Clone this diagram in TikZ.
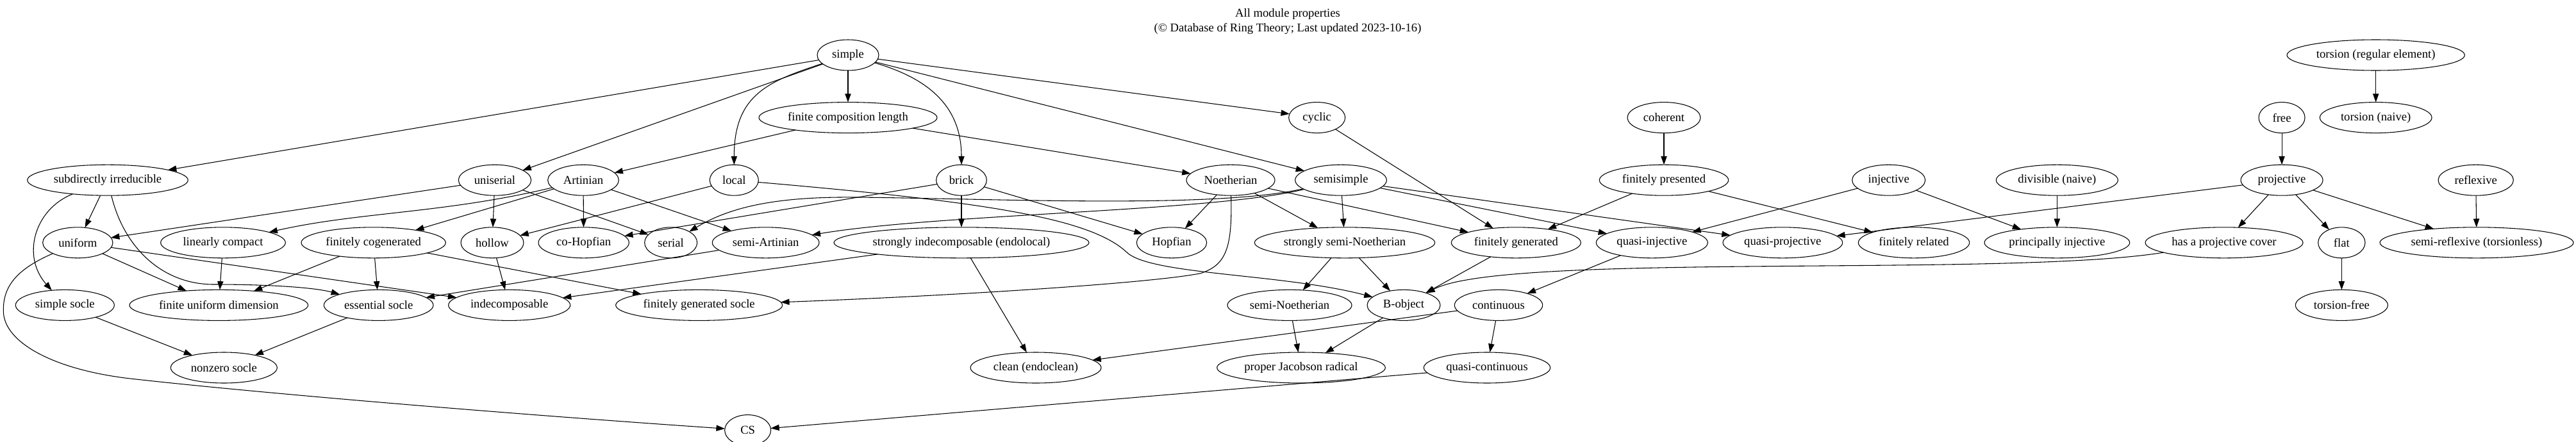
\documentclass[tikz,border=0pt]{standalone}
\usepackage{fontspec}
\setmainfont{Liberation Serif}
\usetikzlibrary{arrows.meta,positioning,shapes.geometric}

\begin{document}
\begin{tikzpicture}[x=1pt,y=1pt,node distance=37.2pt]
    \tikzset{
      prop/.style={ellipse,draw=black,thick,inner sep=1pt,outer sep=0pt,minimum height=36pt,font=\fontsize{14}{17}\selectfont},
      heading/.style={align=center,font=\fontsize{14}{16.8}\selectfont},
      arrow/.style={->,>={Triangle[length=10pt,width=7pt]},thick}
    }
    \useasboundingbox (0,0) rectangle (3014.25,-516.75);
    \node[heading] (title) at (1506.75,-25.1) {All module properties\\(© Database of Ring Theory; Last updated 2023-10-16)};

    \node[prop,minimum width=72pt] (simple) at (992.25,-64.5) {simple};
    \node[prop,minimum width=208.5pt,below=of simple] (fcl) {finite composition length};
    \node[prop,minimum width=66pt,right=411.5pt of fcl] (cyclic) {cyclic};

    \node[prop,minimum width=188pt] (subirred) at (126,-210.9) {subdirectly irreducible};
    \node[prop,minimum width=85pt,right=316.5pt of subirred] (uniserial) {uniserial};
    \node[prop,minimum width=83pt,right=19.5pt of uniserial] (artinian) {Artinian};
    \node[prop,minimum width=57pt,right=106.5pt of artinian] (local) {local};
    \node[prop,minimum width=59pt,right=208pt of local] (brick) {brick};
    \node[prop,minimum width=103.5pt,right=233.75pt of brick] (noetherian) {Noetherian};
    \node[prop,minimum width=107pt,right=23.75pt of noetherian] (semisimple) {semisimple};
    \node[prop,minimum width=151pt,right=249pt of semisimple] (finpres) {finitely presented};
    \node[prop,minimum width=85.5pt,right=144.75pt of finpres] (injective) {injective};
    \node[prop,minimum width=142.5pt,right=83pt of injective] (divisible) {divisible (naive)};
    \node[prop,minimum width=96pt,right=143.75pt of divisible] (projective) {projective};
    \node[prop,minimum width=88pt,right=135pt of projective] (reflexive) {reflexive};
    \node[prop,minimum width=85.5pt,above=of finpres] (coherent) {coherent};
    \node[prop,minimum width=54pt,above=of projective] (free) {free};
    \node[prop,minimum width=131pt,right=17.5pt of free] (torsionnaive) {torsion (naive)};
    \node[prop,minimum width=208pt,above=of torsionnaive] (torsionreg) {torsion (regular element)};

    \node[prop,minimum width=82pt] (uniform) at (91,-284.1) {uniform};
    \node[prop,minimum width=146pt,right=56pt of uniform] (lincompact) {linearly compact};
    \node[prop,minimum width=169pt,right=18.5pt of lincompact] (fincogen) {finitely cogenerated};
    \node[prop,minimum width=73.5pt,right=17.75pt of fincogen] (hollow) {hollow};
    \node[prop,minimum width=106pt,right=17.25pt of hollow] (cohopfian) {co-Hopfian};
    \node[prop,minimum width=61.5pt,right=18.25pt of cohopfian] (serial) {serial};
    \node[prop,minimum width=125pt,right=17.75pt of serial] (semiartinian) {semi-Artinian};
    \node[prop,minimum width=298.5pt,right=17.25pt of semiartinian] (strindec) {strongly indecomposable (endolocal)};
    \node[prop,minimum width=82pt,right=55.75pt of strindec] (hopfian) {Hopfian};
    \node[prop,minimum width=211pt,right=56pt of hopfian] (strsemino) {strongly semi-Noetherian};
    \node[prop,minimum width=151.5pt,right=19.25pt of strsemino] (fingen) {finitely generated};
    \node[prop,minimum width=130.5pt,right=18pt of fingen] (quasiinj) {quasi-injective};
    \node[prop,minimum width=140pt,right=17.75pt of quasiinj] (quasiproj) {quasi-projective};
    \node[prop,minimum width=130pt,right=18.5pt of quasiproj] (finrel) {finitely related};
    \node[prop,minimum width=170pt,right=17.5pt of finrel] (prinj) {principally injective};
    \node[prop,minimum width=184.5pt,right=18.25pt of prinj] (projcover) {has a projective cover};
    \node[prop,minimum width=55pt,right=17.75pt of projcover] (flat) {flat};
    \node[prop,minimum width=226.5pt,right=17.25pt of flat] (semirefl) {semi-reflexive (torsionless)};

    \node[prop,minimum width=115.5pt] (simplesocle) at (76,-357.3) {simple socle};
    \node[prop,minimum width=209pt,right=17.75pt of simplesocle] (fud) {finite uniform dimension};
    \node[prop,minimum width=128pt,right=18.5pt of fud] (esssocle) {essential socle};
    \node[prop,minimum width=142.5pt,right=17.75pt of esssocle] (indecomp) {indecomposable};
    \node[prop,minimum width=195pt,right=53.25pt of indecomp] (fgsocle) {finitely generated socle};
    \node[prop,minimum width=145.5pt,right=520.75pt of fgsocle] (seminoeth) {semi-Noetherian};
    \node[prop,minimum width=85.5pt,right=18pt of seminoeth] (bobject) {B-object};
    \node[prop,minimum width=103pt,right=16.75pt of bobject] (continuous) {continuous};
    \node[prop,minimum width=108pt,below=of flat] (torsionfree) {torsion-free};

    \node[prop,minimum width=124.5pt] (nonzerosocle) at (262,-430.5) {nonzero socle};
    \node[prop,minimum width=153pt,right=811.25pt of nonzerosocle] (clean) {clean (endoclean)};
    \node[prop,minimum width=197pt,right=135.5pt of clean] (jacobson) {proper Jacobson radical};
    \node[prop,minimum width=148pt,right=45pt of jacobson] (quasicont) {quasi-continuous};

    \node[prop,minimum width=54pt] (cs) at (875,-503.7) {CS};

    \draw[arrow] (simple) -- (subirred);
    \draw[arrow] (simple) -- (uniserial);
    \draw[arrow] (simple) .. controls (900,-95) and (859,-110) .. (local);
    \draw[arrow] (simple) -- (fcl);
    \draw[arrow] (simple) .. controls (1080,-90) and (1125,-120) .. (brick);
    \draw[arrow] (simple) -- (semisimple);
    \draw[arrow] (simple) -- (cyclic);
    \draw[arrow] (fcl) -- (artinian);
    \draw[arrow] (fcl) -- (noetherian);
    \draw[arrow] (cyclic) -- (fingen);
    \draw[arrow] (coherent) -- (finpres);
    \draw[arrow] (free) -- (projective);
    \draw[arrow] (torsionreg) -- (torsionnaive);

    \draw[arrow] (subirred) -- (uniform);
    \draw[arrow] (subirred) .. controls (40,-245) and (25,-300) .. (simplesocle);
    \draw[arrow] (subirred) .. controls (145,-290) and (190,-333) .. (250,-333) .. controls (320,-333) and (370,-337) .. (esssocle);
    \draw[arrow] (uniserial) -- (uniform);
    \draw[arrow] (uniserial) -- (hollow);
    \draw[arrow] (uniserial) -- (serial);
    \draw[arrow] (artinian) .. controls (520,-250) and (420,-248) .. (lincompact);
    \draw[arrow] (artinian) -- (fincogen);
    \draw[arrow] (artinian) -- (cohopfian);
    \draw[arrow] (artinian) -- (semiartinian);
    \draw[arrow] (local) -- (hollow);
    \draw[arrow] (local) .. controls (1150,-236) and (1275,-255) .. (1318,-295) .. controls (1345,-322) and (1500,-320) .. (bobject);
    \draw[arrow] (brick) -- (cohopfian);
    \draw[arrow] (brick) -- (strindec);
    \draw[arrow] (brick) -- (hopfian);
    \draw[arrow] (noetherian) -- (hopfian);
    \draw[arrow] (noetherian) -- (strsemino);
    \draw[arrow] (noetherian) -- (fingen);
    \draw[arrow] (noetherian) .. controls (1442,-290) and (1435,-310) .. (1405,-320) .. controls (1345,-332) and (1100,-347) .. (fgsocle);
    \draw[arrow] (semisimple) .. controls (1420,-245) and (1150,-232) .. (1000,-231) .. controls (900,-230) and (850,-245) .. (serial);
    \draw[arrow] (semisimple) .. controls (1420,-248) and (1100,-250) .. (semiartinian);
    \draw[arrow] (semisimple) -- (strsemino);
    \draw[arrow] (semisimple) -- (quasiinj);
    \draw[arrow] (semisimple) -- (quasiproj);
    \draw[arrow] (finpres) -- (fingen);
    \draw[arrow] (finpres) -- (finrel);
    \draw[arrow] (injective) -- (quasiinj);
    \draw[arrow] (injective) -- (prinj);
    \draw[arrow] (divisible) -- (prinj);
    \draw[arrow] (projective) -- (quasiproj);
    \draw[arrow] (projective) -- (projcover);
    \draw[arrow] (projective) -- (flat);
    \draw[arrow] (projective) -- (semirefl);
    \draw[arrow] (reflexive) -- (semirefl);

    \draw[arrow] (uniform) -- (fud);
    \draw[arrow] (uniform) -- (indecomp);
    \draw[arrow] (uniform) .. controls (20,-315) and (3,-335) .. (4,-365) .. controls (5,-400) and (60,-432) .. (150,-443) .. controls (300,-460) and (600,-485) .. (cs);
    \draw[arrow] (lincompact) -- (fud);
    \draw[arrow] (fincogen) -- (fud);
    \draw[arrow] (fincogen) -- (esssocle);
    \draw[arrow] (fincogen) -- (fgsocle);
    \draw[arrow] (hollow) -- (indecomp);
    \draw[arrow] (semiartinian) -- (esssocle);
    \draw[arrow] (strindec) -- (indecomp);
    \draw[arrow] (strindec) -- (clean);
    \draw[arrow] (strsemino) -- (seminoeth);
    \draw[arrow] (strsemino) -- (bobject);
    \draw[arrow] (fingen) -- (bobject);
    \draw[arrow] (quasiinj) -- (continuous);
    \draw[arrow] (projcover) .. controls (2350,-325) and (1760,-295) .. (bobject);
    \draw[arrow] (flat) -- (torsionfree);

    \draw[arrow] (simplesocle) -- (nonzerosocle);
    \draw[arrow] (esssocle) -- (nonzerosocle);
    \draw[arrow] (seminoeth) -- (jacobson);
    \draw[arrow] (bobject) -- (jacobson);
    \draw[arrow] (continuous) -- (quasicont);
    \draw[arrow] (continuous) -- (clean);
    \draw[arrow] (quasicont) -- (cs);

  \end{tikzpicture}
\end{document}
